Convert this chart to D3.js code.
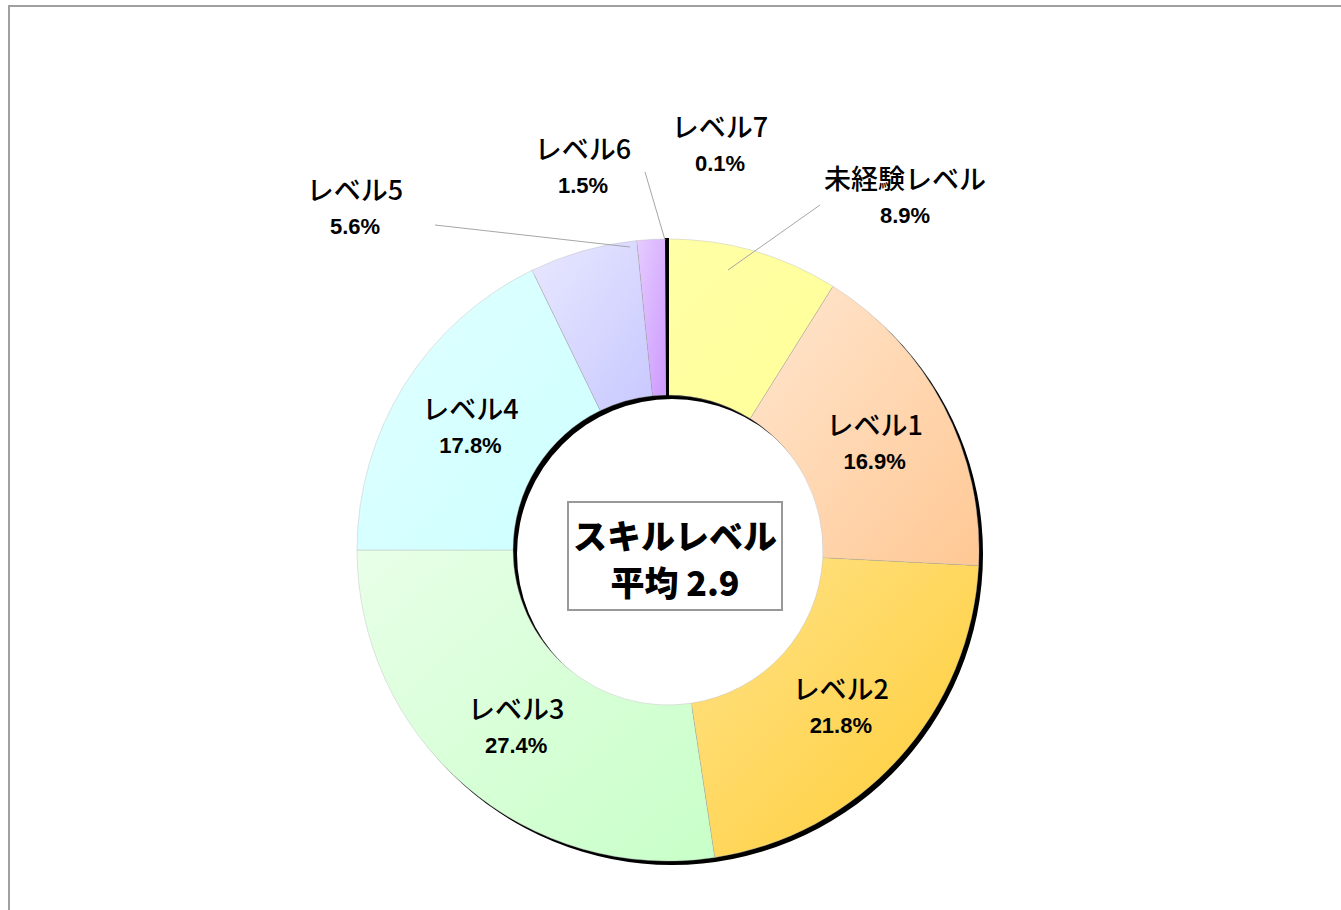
<!DOCTYPE html>
<html><head><meta charset="utf-8">
<script src="https://cdn.jsdelivr.net/npm/d3@7"></script>
<style>body{margin:0;background:#fff}svg{display:block}</style>
</head><body>
<svg id="c" width="1341" height="910"></svg>
<script>
// ---- data ----
const categories = ["未経験レベル","レベル1","レベル2","レベル3","レベル4","レベル5","レベル6","レベル7"];
const values = [8.9, 16.9, 21.8, 27.4, 17.8, 5.6, 1.5, 0.1];
const percentLabels = ["8.9%","16.9%","21.8%","27.4%","17.8%","5.6%","1.5%","0.1%"];
const centerTitle = "スキルレベル";
const centerValue = "平均 2.9";

// ---- styling / layout ----
const gradStops = [
  ["#ffffa6","#ffff99"],
  ["#ffe6cf","#ffc894"],
  ["#ffe38a","#ffcc33"],
  ["#e8ffe8","#c8ffc8"],
  ["#e2ffff","#ccffff"],
  ["#e8e8ff","#c8c8ff"],
  ["#e6ccff","#cc99ff"],
  ["#000000","#000000"]
];
const cx = 668, cy = 550, rOuter = 311, rInner = 155, rLabel = 233;
// outside labels: offsets from centre (label centre) and leader line endpoints
const outside = {
  0: {lx: 237, ly: -354, line: [[152,-345],[60,-280]]},
  5: {lx: -313, ly: -343, line: [[-233,-325],[-38,-303]]},
  6: {lx: -85, ly: -384, line: [[-23,-378],[-3,-310]]},
  7: {lx: 52, ly: -406, line: null}
};

const svg = d3.select("#c");
// frame
svg.append("rect").attr("x",9).attr("y",6).attr("width",1340).attr("height",940)
  .attr("fill","#fff").attr("stroke","#a0a0a0").attr("stroke-width",2);

const defs = svg.append("defs");
gradStops.forEach((s,i)=>{
  const g = defs.append("linearGradient").attr("id","g"+i)
    .attr("x1","0").attr("y1","0").attr("x2","1").attr("y2","1");
  g.append("stop").attr("offset","0").attr("stop-color",s[0]);
  g.append("stop").attr("offset","1").attr("stop-color",s[1]);
});

const pie = d3.pie().value(d=>d).sort(null);
const arcs = pie(values);
const arc = d3.arc().innerRadius(rInner).outerRadius(rOuter);
const labelArc = d3.arc().innerRadius(rLabel).outerRadius(rLabel);

const g = svg.append("g").attr("transform",`translate(${cx},${cy})`);
// shadow
g.append("path")
  .attr("d", d3.arc().innerRadius(rInner).outerRadius(rOuter)({startAngle:0,endAngle:2*Math.PI}))
  .attr("transform","translate(4,4)").attr("fill","#000");

g.selectAll("path.slice").data(arcs).join("path").attr("class","slice")
  .attr("d",arc)
  .attr("fill",(d,i)=>`url(#g${i})`)
  .attr("stroke",(d,i)=> i===7 ? "#000" : "#b8b8b8")
  .attr("stroke-width",(d,i)=> i===7 ? 2 : 0.4);

// leader lines
Object.entries(outside).forEach(([i,o])=>{
  if(!o.line) return;
  g.append("path").attr("d", d3.line()(o.line))
    .attr("fill","none").attr("stroke","#a6a6a6").attr("stroke-width",1);
});

const jpFont = "'Noto Sans CJK JP','Noto Sans',sans-serif";
const numFont = "'Liberation Sans Narrow','Liberation Sans',Arial,sans-serif";

arcs.forEach((d,i)=>{
  let x,y;
  if(outside[i]){ x = outside[i].lx; y = outside[i].ly; }
  else { [x,y] = labelArc.centroid(d); }
  g.append("text").attr("x",x).attr("y",y-19).attr("text-anchor","middle")
    .attr("dominant-baseline","central")
    .attr("font-family",jpFont).attr("font-size",27).attr("font-weight",500).attr("fill","#000")
    .text(categories[i]);
  g.append("text").attr("x",x).attr("y",y+19).attr("text-anchor","middle")
    .attr("dominant-baseline","central")
    .attr("font-family",numFont).attr("font-size",22).attr("font-weight","bold").attr("fill","#000")
    .text(percentLabels[i]);
});

// centre box
g.append("rect").attr("x",-100).attr("y",-48).attr("width",214).attr("height",108)
  .attr("fill","#fff").attr("stroke","#999").attr("stroke-width",2);
g.append("text").attr("x",7).attr("y",-16).attr("text-anchor","middle").attr("dominant-baseline","central")
  .attr("font-family",jpFont).attr("font-size",34).attr("font-weight",900).text(centerTitle);
g.append("text").attr("x",7).attr("y",31).attr("text-anchor","middle").attr("dominant-baseline","central")
  .attr("font-family",jpFont).attr("font-size",34).attr("font-weight",900).text(centerValue);
</script>
</body></html>
